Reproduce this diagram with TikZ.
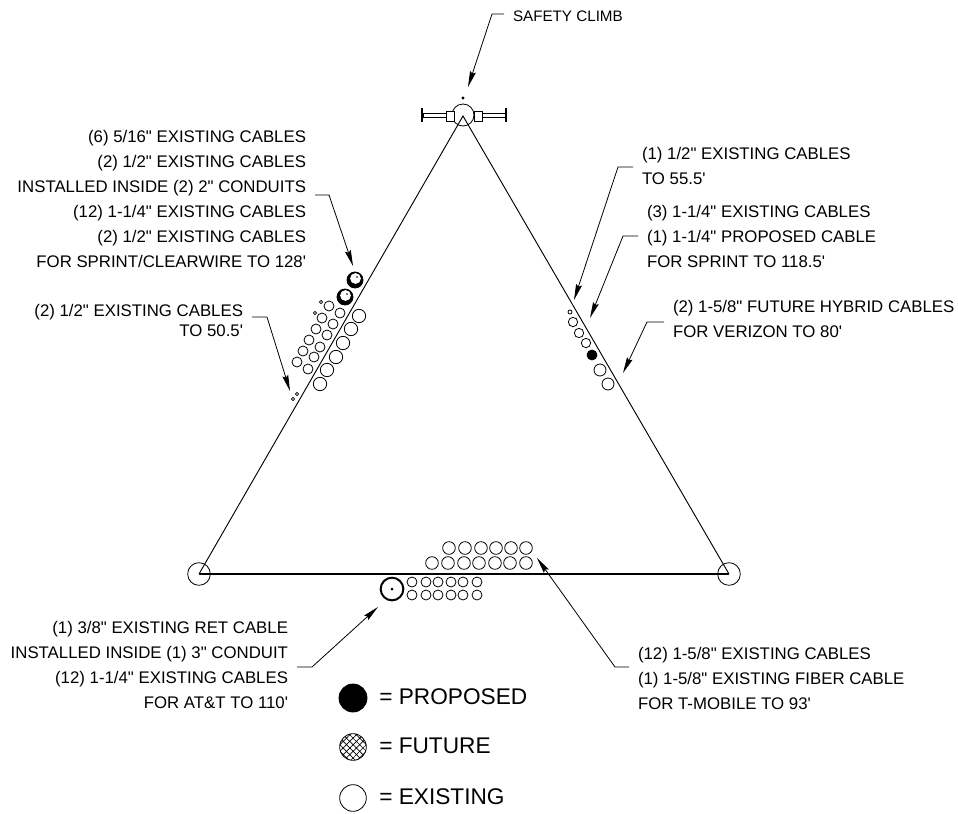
\documentclass[tikz,border=0pt]{standalone}
\usepackage{fontspec}
\newfontfamily\notefont{Liberation Sans}
\usetikzlibrary{arrows.meta,patterns.meta}
\tikzset{
  leader/.style={-{Stealth[length=12pt,width=4.5pt,inset=1.5pt]},line width=0.6pt},
  member/.style={line width=0.7pt},
  cable/.style={draw,circle,inner sep=0pt,line width=0.6pt,fill=white},
  thickcable/.style={cable,minimum size=12pt,line width=0.6pt,fill=black},
  note/.style={font=\fontsize{12.6}{18.7}\selectfont\notefont,inner sep=0pt,outer xsep=6.75pt,align=right},
  keytext/.style={font=\fontsize{17}{20}\selectfont\notefont,inner sep=0pt,anchor=west}
}
\begin{document}
\begin{tikzpicture}[x=0.75pt,y=-0.75pt]
        \useasboundingbox (0,0) rectangle (958,814);
        % legs
        \node[cable,minimum size=16.5pt] (top) at (463,115) {};
        \node[cable,minimum size=17pt] (left) at (199,574) {};
        \node[cable,minimum size=17pt] (right) at (729,574) {};
        \coordinate (apex) at (463,116);
        \draw[member] (left.center) -- (apex) -- (right.center);
        \draw[line width=0.85pt] (left.center) -- (right.center);
        % climb
        \coordinate (dot) at (463,98);
        \fill (dot) circle (1.6);
        \draw[line width=0.6pt,fill=white] (423,113) rectangle (446,117);
        \draw[line width=0.6pt,fill=white] (446,111) rectangle (454,121);
        \draw[line width=0.6pt,fill=white] (474,111) rectangle (482,121);
        \draw[line width=0.6pt,fill=white] (482,113) rectangle (506,117);
        \draw[line width=1.5pt] (422,108) -- (422,122);
        \draw[line width=1.5pt] (506,108) -- (506,122);
        % cables left
        \foreach \x/\y in {359/316,351/329,343/343,336/357,327/370,320/384}
          \node[cable,minimum size=10pt] at (\x,\y) {};
        \foreach \x/\y in {340/313,333/324,327/335,320/347,314/357,308/369}
          \node[cable,minimum size=7.5pt] at (\x,\y) {};
        \foreach \x/\y in {329/306,322/318,316/329,309/340,303/351,297/362}
          \node[cable,minimum size=7.5pt] at (\x,\y) {};
        \foreach \x/\y in {355/280,345/297} {
          \node[thickcable] at (\x,\y) {};
          \fill[white] (\x+0.5,\y-1.5) circle (5.4);
          \fill (\x+2,\y-3) circle (0.9);
        }
        \foreach \x/\y in {321/302,315/313,297/394,293/399}
          \node[cable,minimum size=2.5pt] at (\x,\y) {};
        % cables right
        \node[cable,minimum size=3pt] at (570,312) {};
        \foreach \x/\y in {573/322,579/333,586/343}
          \node[cable,minimum size=7pt] at (\x,\y) {};
        \node[cable,fill=black,minimum size=7.5pt] at (592,355) {};
        \foreach \x/\y in {600/370,608/384}
          \node[cable,minimum size=9pt] at (\x,\y) {};
        % cables bottom
        \foreach \x in {449,465,481,496,511,526}
          \node[cable,minimum size=9.5pt] at (\x,548) {};
        \foreach \x in {432,448,464,479,495,510,526}
          \node[cable,minimum size=9.5pt] at (\x,563) {};
        \foreach \x in {412,426,438,451,463,477}
          \foreach \y in {582,595}
            \node[cable,minimum size=7.5pt] at (\x,\y) {};
        \node[cable,minimum size=17pt,line width=1.5pt] (conduit) at (392,589) {};
        \fill (conduit.center) circle (1.5);
        % notes
        \node[note,anchor=north east] (noteA) at (315,130) {(6) 5/16" EXISTING CABLES\\(2) 1/2" EXISTING CABLES\\INSTALLED INSIDE (2) 2" CONDUITS\\(12) 1-1/4" EXISTING CABLES\\(2) 1/2" EXISTING CABLES\\FOR SPRINT/CLEARWIRE TO 128'};
        \node[note,anchor=north east] (noteB) at (252,304) {(2) 1/2" EXISTING CABLES\\[-3.5pt]TO 50.5'};
        \node[note,anchor=north west,align=left] (noteC) at (633,147) {(1) 1/2" EXISTING CABLES\\TO 55.5'};
        \node[note,anchor=north west,align=left] (noteD) at (638,205) {(3) 1-1/4" EXISTING CABLES\\(1) 1-1/4" PROPOSED CABLE\\FOR SPRINT TO 118.5'};
        \node[note,anchor=north west,align=left] (noteF) at (664,300) {(2) 1-5/8" FUTURE HYBRID CABLES\\FOR VERIZON TO 80'};
        \node[note,anchor=north east] (noteG) at (297,621) {(1) 3/8" EXISTING RET CABLE\\INSTALLED INSIDE (1) 3" CONDUIT\\(12) 1-1/4" EXISTING CABLES\\FOR AT\&T TO 110'};
        \node[note,anchor=north west,align=left] (noteH) at (629,647) {(12) 1-5/8" EXISTING CABLES\\(1) 1-5/8" EXISTING FIBER CABLE\\FOR T-MOBILE TO 93'};
        \node[note,anchor=north west,align=left,font=\fontsize{11.4}{14}\selectfont\notefont] (noteI) at (504,11) {SAFETY CLIMB};
        % leaders
        \coordinate (kneeI) at (492,14);
        \coordinate (tipI) at (468,87);
        \draw[leader] (noteI.west |- kneeI) -- (kneeI) -- (tipI);
        \coordinate (kneeA) at (329,195);
        \coordinate (tipA) at (353,266);
        \draw[leader] (noteA.east |- kneeA) -- (kneeA) -- (tipA);
        \coordinate (kneeB) at (267,317);
        \coordinate (tipB) at (290,391);
        \draw[leader] (noteB.east |- kneeB) -- (kneeB) -- (tipB);
        \coordinate (kneeC) at (618,167);
        \coordinate (tipC) at (574,300);
        \draw[leader] (noteC.west |- kneeC) -- (kneeC) -- (tipC);
        \coordinate (kneeD) at (623,236);
        \coordinate (tipD) at (590,318);
        \draw[leader] (noteD.west |- kneeD) -- (kneeD) -- (tipD);
        \coordinate (kneeF) at (647,322);
        \coordinate (tipF) at (623,373);
        \draw[leader] (noteF.west |- kneeF) -- (kneeF) -- (tipF);
        \coordinate (kneeG) at (312,667);
        \coordinate (tipG) at (378,607);
        \draw[leader] (noteG.east |- kneeG) -- (kneeG) -- (tipG);
        \coordinate (kneeH) at (615,667);
        \coordinate (tipH) at (537,558);
        \draw[leader] (noteH.west |- kneeH) -- (kneeH) -- (tipH);
        % legend
        \node[cable,fill=black,minimum size=21pt] (keyP) at (353,698) {};
        \node[cable,pattern={Hatch[angle=45,distance=3.5pt,line width=0.5pt]},minimum size=20pt] (keyF) at (353,747) {};
        \node[cable,minimum size=20pt] (keyE) at (353,798) {};
        \node[keytext] (textP) at (379,697) {= PROPOSED};
        \node[keytext] (textF) at (379,746) {= FUTURE};
        \node[keytext] (textE) at (379,797) {= EXISTING};
\end{tikzpicture}
\end{document}
